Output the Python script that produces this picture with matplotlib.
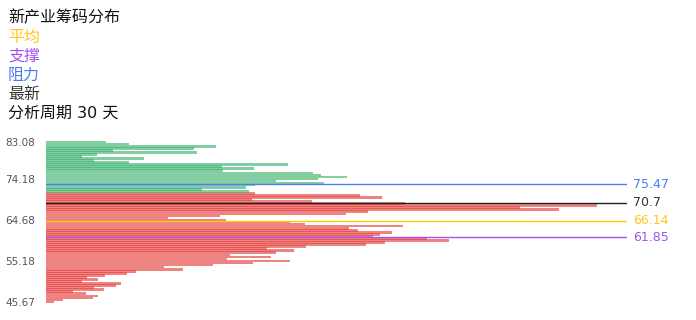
import numpy as np
import matplotlib.pyplot as plt

plt.rcParams['font.family'] = ['DejaVu Sans', 'Noto Sans CJK SC']

# chip volume per price bin, top (highest price) to bottom
green_vals = [60, 83, 170, 148, 67, 151, 51, 36, 98, 48, 83, 242, 176, 208, 177,
              267, 275, 301, 272, 230, 278, 209, 200, 156, 203]
red_vals = [209, 314, 336, 206, 266, 359, 551, 474, 513, 322, 300, 174, 122, 180,
            244, 259, 357, 303, 312, 346, 334, 327, 381, 403, 339, 320, 260, 221,
            248, 230, 184, 225, 181, 244, 207, 167, 118, 137, 90, 81, 59, 41, 52,
            36, 75, 70, 48, 58, 27, 40, 52, 47, 17, 8]

tick_idx = [0, 20, 40, 60, 78]
tick_labels = ['45.67', '55.18', '64.68', '74.18', '83.08']

avg_price = 66.14
support = 61.85
resistance = 75.47
latest = 70.7

title = '新产业筹码分布'
period_text = '分析周期 30 天'

vals = (green_vals + red_vals)[::-1]
n = len(vals)
n_red = len(red_vals)
colors = ['#e53935' if i < n_red else '#35b06a' for i in range(n)]

fig = plt.figure(figsize=(6.96, 3.2), dpi=100)
ax = fig.add_axes([46 / 696, 16.77 / 320, 581 / 696, 162.36 / 320])
ax.barh(np.arange(n), vals, height=1.3, color=colors, alpha=0.62, linewidth=0)
ax.set_xlim(0, 581)
ax.set_ylim(-0.6, n - 1 + 0.6)
ax.set_yticks(tick_idx)
ax.set_yticklabels(tick_labels, fontsize=7.5, color='#555555')
ax.set_xticks([])
ax.tick_params(axis='y', length=0, pad=8)
for s in ax.spines.values():
    s.set_visible(False)

# price axis for the marker lines
ax2 = ax.twinx()
ax2.set_ylim(44.9, 86.63)
ax2.set_yticks([])
for s in ax2.spines.values():
    s.set_visible(False)

lines = [(resistance, '#4a7cf5', '#4a7cf5'), (latest, '#222222', '#333333'),
         (avg_price, '#ffc800', '#ffc61a'), (support, '#a64ff0', '#a64ff0')]
for v, c, tc in lines:
    ax2.axhline(v, color=c, linewidth=1)
    ax2.text(1.01, v, f'{v:g}', transform=ax2.get_yaxis_transform(),
             color=tc, fontsize=9, va='center', ha='left')

# header legend
heads = [(title, '#111111'), ('平均', '#ffc61a'), ('支撑', '#a64ff0'),
         ('阻力', '#4a7cf5'), ('最新', '#333333'), (period_text, '#111111')]
for k, (t, c) in enumerate(heads):
    fig.text(8 / 696, 1 - (18 + 19 * k) / 320, t, color=c, fontsize=11.5,
             va='center', ha='left')

fig.savefig('out.png', dpi=100)
